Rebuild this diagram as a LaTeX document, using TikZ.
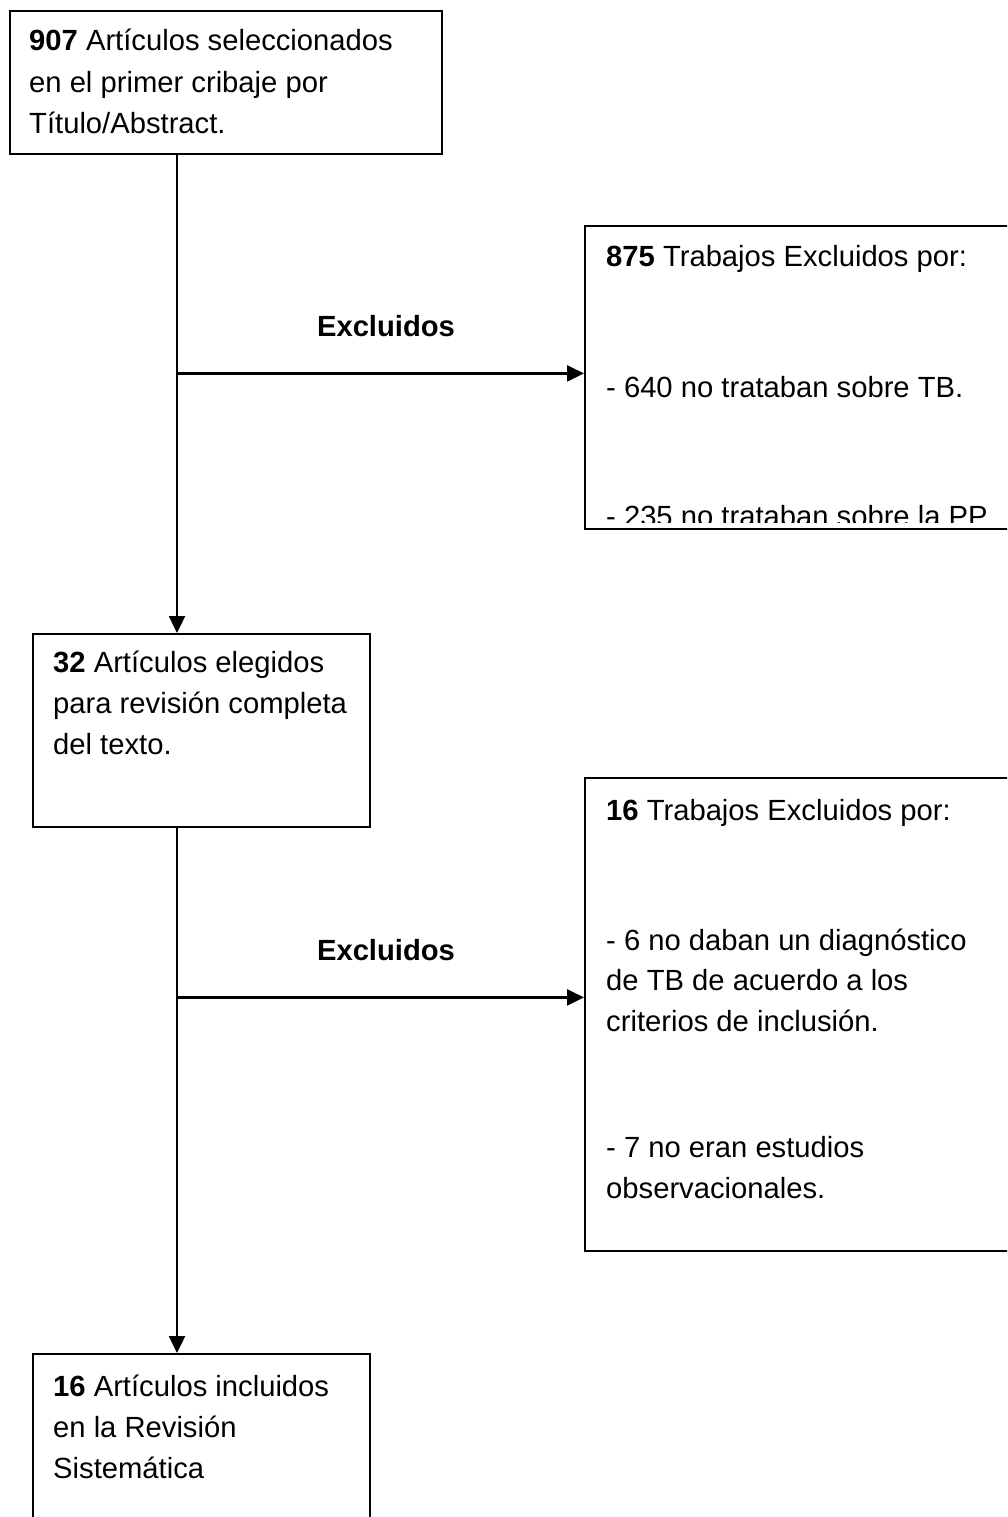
\documentclass[tikz,border=0pt]{standalone}
\usepackage{fontspec}
\setmainfont{Liberation Sans}
\usetikzlibrary{arrows.meta,calc}
\begin{document}
\begin{tikzpicture}[x=1pt,y=-1pt,
  box/.style={draw, line width=2.4pt, anchor=north west, inner sep=0pt},
  txt/.style={anchor=base west, inner sep=0pt, font=\fontsize{29.2}{35}\selectfont},
  lbl/.style={anchor=base, inner sep=0pt, font=\fontsize{29.2}{35}\selectfont\bfseries},
  arr/.style={line width=2.4pt, -{Triangle[length=17pt,width=16pt]}}]
\fill[white] (0,0) rectangle (1007,1517);
\clip (0,0) rectangle (1007,1517);
% boxes
\node[box, minimum width=432, minimum height=143] (b1) at (9,10) {};
\node[box, minimum width=337, minimum height=193] (b2) at (32,633) {};
\node[box, minimum width=337, minimum height=200] (b3) at (32,1353) {};
\node[box, minimum width=440, minimum height=303] (r1) at (584,225) {};
\node[box, minimum width=440, minimum height=473] (r2) at (584,777) {};
% connectors
\path (b1.south west) ++(168,0) coordinate (s1);
\draw[arr] (s1) -- (s1 |- b2.north);
\path (s1) ++(0,218) coordinate (j1);
\draw[arr] (j1) -- (j1 -| r1.west);
\path (b2.south west) ++(145,0) coordinate (s2);
\draw[arr] (s2) -- (s2 |- b3.north);
\path (s2) ++(0,169) coordinate (j2);
\draw[arr] (j2) -- (j2 -| r2.west);
% labels
\node[lbl] (e1) at (386,336) {Excluidos};
\node[lbl] (e2) at (386,960) {Excluidos};
% box texts
\node[txt] (t1a) at (29,51) {\textbf{907} Artículos seleccionados};
\node[txt] (t1b) at (29,93) {en el primer cribaje por};
\node[txt] (t1c) at (29,134) {Título/Abstract.};
\node[txt] (t2a) at (53,672) {\textbf{32} Artículos elegidos};
\node[txt] (t2b) at (53,713) {para revisión completa};
\node[txt] (t2c) at (53,754) {del texto.};
\node[txt] (t3a) at (53,1396) {\textbf{16} Artículos incluidos};
\node[txt] (t3b) at (53,1437) {en la Revisión};
\node[txt] (t3c) at (53,1478) {Sistemática};
\node[txt] (r1a) at (606,266) {\textbf{875} Trabajos Excluidos por:};
\node[txt] (r1b) at (606,397) {- 640 no trataban sobre TB.};
\begin{scope}
  \clip (584,225) rectangle (1007,522);
  \node[txt] (r1c) at (606,526) {- 235 no trataban sobre la PP};
\end{scope}
\node[txt] (r2a) at (606,820) {\textbf{16} Trabajos Excluidos por:};
\node[txt] (r2b) at (606,950) {- 6 no daban un diagnóstico};
\node[txt] (r2c) at (606,990) {de TB de acuerdo a los};
\node[txt] (r2d) at (606,1031) {criterios de inclusión.};
\node[txt] (r2e) at (606,1157) {- 7 no eran estudios};
\node[txt] (r2f) at (606,1198) {observacionales.};
\end{tikzpicture}
\end{document}
